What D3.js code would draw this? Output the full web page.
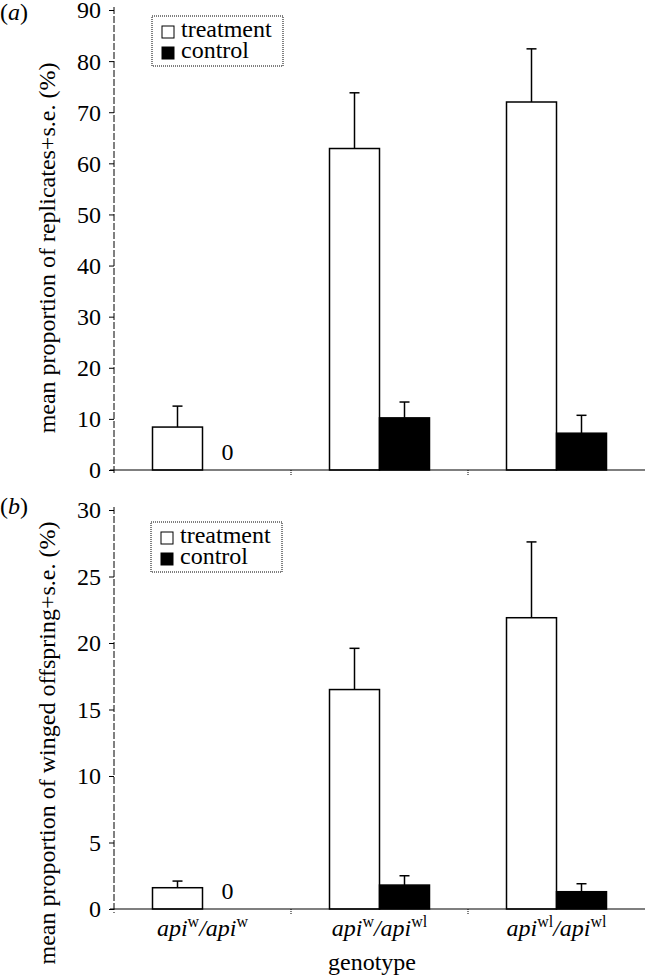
<!DOCTYPE html>
<html><head><meta charset="utf-8">
<script src="https://cdn.jsdelivr.net/npm/d3@7"></script>
<style>body{margin:0;background:#fff}svg{display:block}svg text{font-family:"Liberation Serif","Times New Roman","DejaVu Serif",serif !important;fill:#000}</style>
</head><body><svg id="c" width="645" height="979" font-family="Liberation Serif, Times New Roman, serif"></svg>
<script>
const genotypes = [["w","w"],["w","wl"],["wl","wl"]];
const seriesNames = ["treatment","control"];
const aTreatment = [8.4, 62.9, 72.0];
const aTreatmentSE = [4.1, 10.9, 10.4];
const aControl = [0, 10.2, 7.2];
const aControlSE = [0, 3.1, 3.5];
const aTicks = [0,10,20,30,40,50,60,70,80,90];
const bTreatment = [1.6, 16.5, 21.9];
const bTreatmentSE = [0.5, 3.1, 5.7];
const bControl = [0, 1.8, 1.3];
const bControlSE = [0, 0.7, 0.6];
const bTicks = [0,5,10,15,20,25,30];

const FONT = "Liberation Serif, Times New Roman, serif";
const svg = d3.select("#c");
const x0 = d3.scaleBand().domain([0,1,2]).range([114,645]).paddingInner(0).paddingOuter(0);
const x1 = d3.scaleBand().domain(seriesNames).range([0,x0.bandwidth()]).paddingInner(0).paddingOuter(0.77);

function panel(opt){
  const y = d3.scaleLinear().domain([0,opt.max]).range([opt.y0,opt.y1]);
  const g = svg.append("g");
  const ax = g.append("g").attr("transform",`translate(114,0)`).attr("font-family",FONT)
    .call(d3.axisLeft(y).tickValues(opt.ticks).tickSize(5).tickPadding(8).tickFormat(d3.format("d")));
  ax.attr("font-family",FONT);
  ax.select(".domain").remove();
  ax.selectAll("text").attr("font-size",24).attr("font-family",FONT).attr("dy","0.33em");
  ax.selectAll("line").attr("stroke","#000");
  g.append("line").attr("x1",114).attr("x2",114).attr("y1",y(opt.max)-3).attr("y2",y(0)+4)
    .attr("stroke","#000").attr("stroke-dasharray","7,2");
  const data = [];
  [0,1,2].forEach(i=>{
    data.push({c:i,s:"treatment",v:opt.t[i],e:opt.te[i]});
    data.push({c:i,s:"control",v:opt.c[i],e:opt.ce[i]});
  });
  const vis = data.filter(d=>d.v>0);
  g.selectAll("rect.bar").data(vis).join("rect")
    .attr("x",d=>x0(d.c)+x1(d.s)).attr("width",x1.bandwidth())
    .attr("y",d=>y(d.v)).attr("height",d=>y(0)-y(d.v))
    .attr("fill",d=>d.s==="treatment"?"#fff":"#000").attr("stroke","#000").attr("stroke-width",1.5);
  const cx = d=>x0(d.c)+x1(d.s)+x1.bandwidth()/2;
  g.selectAll("line.err").data(vis).join("line")
    .attr("x1",cx).attr("x2",cx).attr("y1",d=>y(d.v)).attr("y2",d=>y(d.v+d.e))
    .attr("stroke","#000").attr("stroke-width",1.5);
  g.selectAll("line.cap").data(vis).join("line")
    .attr("x1",d=>cx(d)-5).attr("x2",d=>cx(d)+5).attr("y1",d=>y(d.v+d.e)).attr("y2",d=>y(d.v+d.e))
    .attr("stroke","#000").attr("stroke-width",1.5);
  g.selectAll("text.zero").data(data.filter(d=>d.v===0)).join("text")
    .attr("x",d=>x0(d.c)+x1(d.s)+x1.bandwidth()/2).attr("y",y(0)-10)
    .attr("text-anchor","middle").attr("font-size",24).attr("font-family",FONT).text("0");
  g.append("line").attr("x1",110).attr("x2",645).attr("y1",y(0)).attr("y2",y(0))
    .attr("stroke","#000").attr("stroke-width",1.2);
  g.selectAll("line.xt").data([1,2]).join("line")
    .attr("x1",d=>x0(d)).attr("x2",d=>x0(d)).attr("y1",y(0)).attr("y2",y(0)+5)
    .attr("stroke","#000").attr("stroke-dasharray","1,1");
  const pl = g.append("text").attr("x",0).attr("y",opt.letterY).attr("font-size",24).attr("font-family",FONT);
  pl.append("tspan").text("(");
  pl.append("tspan").attr("font-style","italic").text(opt.letter);
  pl.append("tspan").text(")");
  g.append("text").attr("transform",`translate(55,${opt.labelY}) rotate(-90)`)
    .attr("text-anchor","middle").attr("font-size",24).attr("font-family",FONT).text(opt.label);
  const lg = g.append("g").attr("transform",`translate(${opt.legX},${opt.legY})`);
  lg.append("rect").attr("x",0).attr("y",0).attr("width",131).attr("height",50)
    .attr("fill","#fff").attr("stroke","#000").attr("stroke-width",1).attr("stroke-dasharray","1,1");
  seriesNames.forEach((s,i)=>{
    lg.append("rect").attr("x",10).attr("y",10+i*21).attr("width",12).attr("height",12)
      .attr("fill",s==="treatment"?"#fff":"#000").attr("stroke","#000").attr("stroke-width",1);
    lg.append("text").attr("x",29).attr("y",21+i*21).attr("font-size",24).attr("font-family",FONT).text(s);
  });
}

panel({max:90,y0:470,y1:10,ticks:aTicks,t:aTreatment,te:aTreatmentSE,c:aControl,ce:aControlSE,
  letter:"a",letterY:20,labelY:248,label:"mean proportion of replicates+s.e. (%)",legX:152,legY:16});
panel({max:30,y0:909,y1:510,ticks:bTicks,t:bTreatment,te:bTreatmentSE,c:bControl,ce:bControlSE,
  letter:"b",letterY:514,labelY:743,label:"mean proportion of winged offspring+s.e. (%)",legX:151,legY:522});

const xl = svg.append("g");
genotypes.forEach((gt,i)=>{
  const t = xl.append("text").attr("x",x0(i)+x0.bandwidth()/2).attr("y",936)
    .attr("text-anchor","middle").attr("font-size",24).attr("font-family",FONT);
  t.append("tspan").attr("font-style","italic").text("api");
  t.append("tspan").attr("font-size",16).attr("dy",-9).text(gt[0]);
  t.append("tspan").attr("font-style","italic").attr("dy",9).text("/api");
  t.append("tspan").attr("font-size",16).attr("dy",-9).text(gt[1]);
});
svg.append("text").attr("x",372).attr("y",970).attr("text-anchor","middle").attr("font-size",24).attr("font-family",FONT).text("genotype");
</script></body></html>
